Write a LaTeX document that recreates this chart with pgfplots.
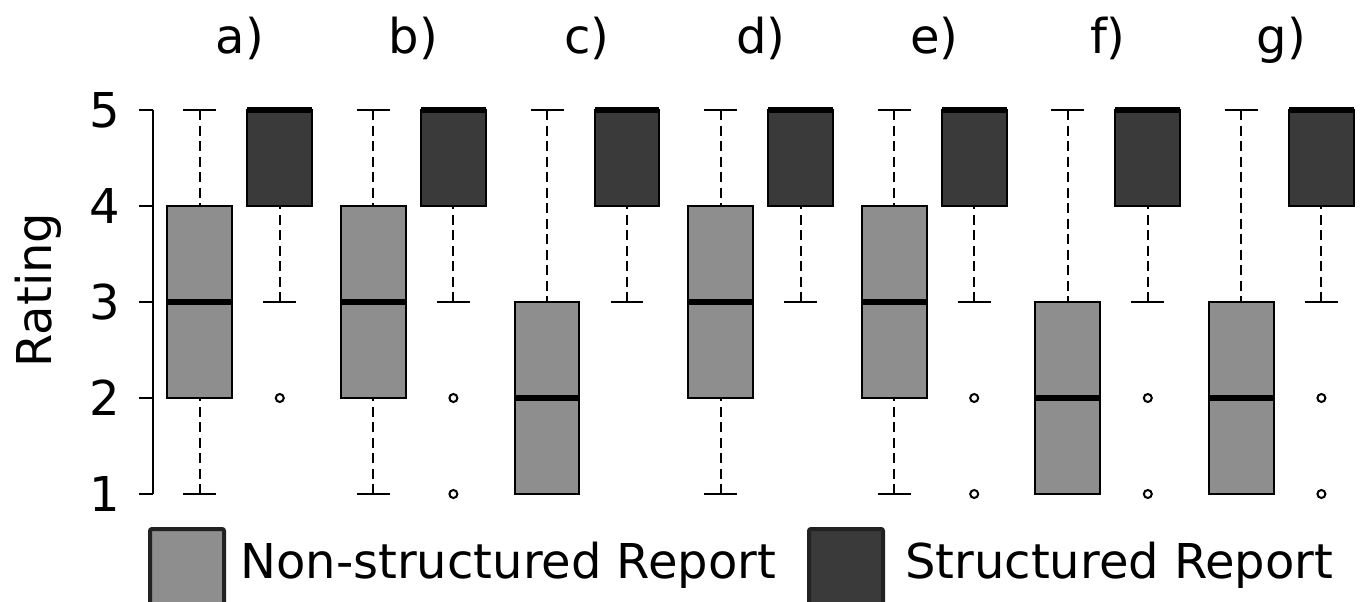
\documentclass[border=0pt]{standalone}
\usepackage{pgfplots}
\pgfplotsset{compat=1.18}
\usepgfplotslibrary{statistics}
\usepackage{fontspec}
\setmainfont{DejaVu Sans}
\definecolor{lightbox}{HTML}{8E8E8E}
\definecolor{darkbox}{HTML}{3A3A3A}
\definecolor{legbord}{HTML}{222222}
\newcommand{\bigfont}{\fontsize{24}{28}\selectfont}

\pgfplotsset{
  rbox/.style={
    boxplot/draw direction=y,
    black, line width=1pt, solid,
    mark=o, mark size=2pt, mark options={solid, black, line width=1pt, fill=white},
    boxplot/box extend=0.374,
    boxplot/whisker extend=0.19,
    boxplot/every median/.style={line width=3pt, black},
    boxplot/every box/.style={fill=#1, draw=black, line width=1pt},
    boxplot/draw/lower whisker/.code={
      \draw[black, line width=1pt, dash pattern=on 5pt off 2.75pt]
        (boxplot box cs:\pgfplotsboxplotvalue{lower whisker},0.5) --
        (boxplot box cs:\pgfplotsboxplotvalue{lower quartile},0.5);
      \draw[black, line width=1pt, solid]
        (boxplot whisker cs:\pgfplotsboxplotvalue{lower whisker},0) --
        (boxplot whisker cs:\pgfplotsboxplotvalue{lower whisker},1);
    },
    boxplot/draw/upper whisker/.code={
      \draw[black, line width=1pt, dash pattern=on 5pt off 2.75pt]
        (boxplot box cs:\pgfplotsboxplotvalue{upper whisker},0.5) --
        (boxplot box cs:\pgfplotsboxplotvalue{upper quartile},0.5);
      \draw[black, line width=1pt, solid]
        (boxplot whisker cs:\pgfplotsboxplotvalue{upper whisker},0) --
        (boxplot whisker cs:\pgfplotsboxplotvalue{upper whisker},1);
    },
  },
}

\begin{document}
\begin{tikzpicture}
\useasboundingbox (0,0) rectangle (681pt,300.5pt);
\begin{axis}[
  at={(76.5pt,53.5pt)}, anchor=south west,
  scale only axis, width=602.5pt, height=192pt,
  xmin=0.5, xmax=7.441, ymin=1, ymax=5,
  clip=false,
  axis x line=none, axis y line=left,
  axis line style={-, black, line width=1pt},
  ytick={1,2,3,4,5},
  tick align=outside, major tick length=7pt,
  ytick style={black, line width=1pt},
  /pgf/number format/assume math mode=true,
  yticklabel style={font=\bigfont, inner sep=0pt, xshift=-9.5pt},
]
% a)
\addplot[rbox=lightbox, boxplot prepared={lower whisker=1, lower quartile=2, median=3, upper quartile=4, upper whisker=5, draw position=0.7697}] coordinates {};
\addplot[rbox=darkbox, boxplot prepared={lower whisker=3, lower quartile=4, median=5, upper quartile=5, upper whisker=5, draw position=1.2303}] coordinates {(0,2)};
% b)
\addplot[rbox=lightbox, boxplot prepared={lower whisker=1, lower quartile=2, median=3, upper quartile=4, upper whisker=5, draw position=1.7697}] coordinates {};
\addplot[rbox=darkbox, boxplot prepared={lower whisker=3, lower quartile=4, median=5, upper quartile=5, upper whisker=5, draw position=2.2303}] coordinates {(0,2) (0,1)};
% c)
\addplot[rbox=lightbox, boxplot prepared={lower whisker=1, lower quartile=1, median=2, upper quartile=3, upper whisker=5, draw position=2.7697}] coordinates {};
\addplot[rbox=darkbox, boxplot prepared={lower whisker=3, lower quartile=4, median=5, upper quartile=5, upper whisker=5, draw position=3.2303}] coordinates {};
% d)
\addplot[rbox=lightbox, boxplot prepared={lower whisker=1, lower quartile=2, median=3, upper quartile=4, upper whisker=5, draw position=3.7697}] coordinates {};
\addplot[rbox=darkbox, boxplot prepared={lower whisker=3, lower quartile=4, median=5, upper quartile=5, upper whisker=5, draw position=4.2303}] coordinates {};
% e)
\addplot[rbox=lightbox, boxplot prepared={lower whisker=1, lower quartile=2, median=3, upper quartile=4, upper whisker=5, draw position=4.7697}] coordinates {};
\addplot[rbox=darkbox, boxplot prepared={lower whisker=3, lower quartile=4, median=5, upper quartile=5, upper whisker=5, draw position=5.2303}] coordinates {(0,2) (0,1)};
% f)
\addplot[rbox=lightbox, boxplot prepared={lower whisker=1, lower quartile=1, median=2, upper quartile=3, upper whisker=5, draw position=5.7697}] coordinates {};
\addplot[rbox=darkbox, boxplot prepared={lower whisker=3, lower quartile=4, median=5, upper quartile=5, upper whisker=5, draw position=6.2303}] coordinates {(0,2) (0,1)};
% g)
\addplot[rbox=lightbox, boxplot prepared={lower whisker=1, lower quartile=1, median=2, upper quartile=3, upper whisker=5, draw position=6.7697}] coordinates {};
\addplot[rbox=darkbox, boxplot prepared={lower whisker=3, lower quartile=4, median=5, upper quartile=5, upper whisker=5, draw position=7.2303}] coordinates {(0,2) (0,1)};

\node[anchor=base, font=\bigfont, yshift=28.5pt] at (axis cs:1,5) {a)};
\node[anchor=base, font=\bigfont, yshift=28.5pt] at (axis cs:2,5) {b)};
\node[anchor=base, font=\bigfont, yshift=28.5pt] at (axis cs:3,5) {c)};
\node[anchor=base, font=\bigfont, yshift=28.5pt] at (axis cs:4,5) {d)};
\node[anchor=base, font=\bigfont, yshift=28.5pt] at (axis cs:5,5) {e)};
\node[anchor=base, font=\bigfont, yshift=28.5pt] at (axis cs:6,5) {f)};
\node[anchor=base, font=\bigfont, yshift=28.5pt] at (axis cs:7,5) {g)};
\end{axis}

\node[rotate=90, anchor=base, font=\bigfont, inner sep=0pt] at (26pt,155.5pt) {Rating};

\draw[legbord, line width=2pt, fill=lightbox, rounded corners=1pt] (75pt,-10pt) rectangle (112pt,36pt);
\node[anchor=base west, font=\bigfont, inner sep=0pt] at (120pt,11.5pt) {Non-structured Report};
\draw[legbord, line width=2pt, fill=darkbox, rounded corners=1pt] (404.5pt,-10pt) rectangle (441.5pt,36pt);
\node[anchor=base west, font=\bigfont, inner sep=0pt] at (452.4pt,11.5pt) {Structured Report};
\end{tikzpicture}
\end{document}
